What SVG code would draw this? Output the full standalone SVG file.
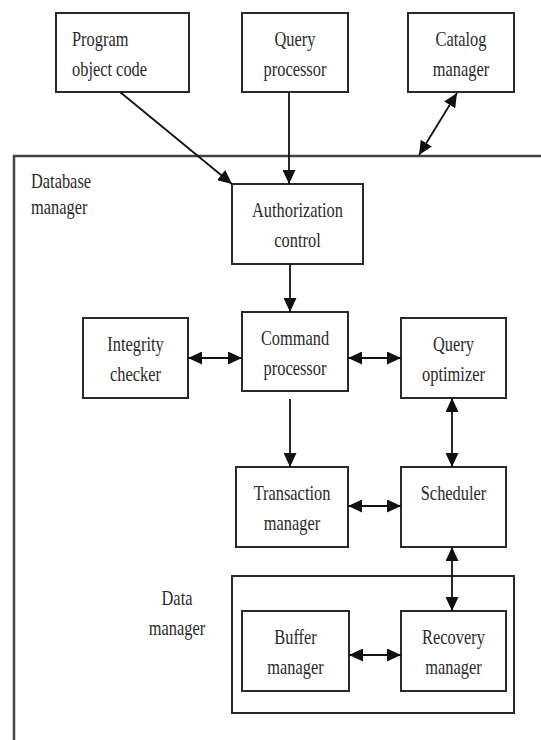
<svg xmlns="http://www.w3.org/2000/svg" width="541" height="740" viewBox="0 0 541 740">
<style>
  .box { fill: #ffffff; stroke: #2a2a2a; stroke-width: 2; }
  .frame { fill: none; stroke: #444444; stroke-width: 2.5; }
  .conn { fill: none; stroke: #111111; stroke-width: 1.8; }
  text { font-family: "Liberation Serif", "Times New Roman", serif; font-size: 20px; fill: #2a2a2a; }
  .c { text-anchor: middle; }
  .l { text-anchor: start; }
</style>
<defs>
  <marker id="ah" markerUnits="userSpaceOnUse" markerWidth="15" markerHeight="13" refX="14" refY="6.5" orient="auto-start-reverse" viewBox="0 0 15 13">
    <path d="M0,0 L14,6.5 L0,13 z" fill="#111111"/>
  </marker>
</defs>
<rect width="541" height="740" fill="#ffffff"/>

<g id="database-manager">
  <polyline class="frame" points="14,740 14,156 541,156"/>
  <text class="l" font-family="Liberation Serif, serif" transform="translate(31,188) scale(0.82,1)">Database</text>
  <text class="l" font-family="Liberation Serif, serif" transform="translate(31,214) scale(0.82,1)">manager</text>
</g>

<g id="data-manager">
  <rect class="box" x="232" y="576" width="282" height="137"/>
  <text class="c" transform="translate(177,605) scale(0.82,1)">Data</text>
  <text class="c" transform="translate(177,635) scale(0.82,1)">manager</text>
</g>

<g id="program-object-code">
  <rect class="box" x="56" y="13" width="133" height="79"/>
  <text class="l" transform="translate(72,46) scale(0.82,1)">Program</text>
  <text class="l" transform="translate(72,76) scale(0.82,1)">object code</text>
</g>

<g id="query-processor">
  <rect class="box" x="242" y="13" width="106" height="79"/>
  <text class="c" transform="translate(295,46) scale(0.82,1)">Query</text>
  <text class="c" transform="translate(295,76) scale(0.82,1)">processor</text>
</g>

<g id="catalog-manager">
  <rect class="box" x="408" y="13" width="106" height="79"/>
  <text class="c" transform="translate(461,46) scale(0.82,1)">Catalog</text>
  <text class="c" transform="translate(461,76) scale(0.82,1)">manager</text>
</g>

<g id="authorization-control">
  <rect class="box" x="232" y="184" width="131" height="80"/>
  <text class="c" transform="translate(297.5,217) scale(0.82,1)">Authorization</text>
  <text class="c" transform="translate(297.5,247) scale(0.82,1)">control</text>
</g>

<g id="integrity-checker">
  <rect class="box" x="83" y="318" width="105" height="80"/>
  <text class="c" transform="translate(135.5,351) scale(0.82,1)">Integrity</text>
  <text class="c" transform="translate(135.5,381) scale(0.82,1)">checker</text>
</g>

<g id="command-processor">
  <rect class="box" x="242" y="312" width="106" height="79"/>
  <text class="c" transform="translate(295,345) scale(0.82,1)">Command</text>
  <text class="c" transform="translate(295,375) scale(0.82,1)">processor</text>
</g>

<g id="query-optimizer">
  <rect class="box" x="401" y="318" width="105" height="80"/>
  <text class="c" transform="translate(453.5,351) scale(0.82,1)">Query</text>
  <text class="c" transform="translate(453.5,381) scale(0.82,1)">optimizer</text>
</g>

<g id="transaction-manager">
  <rect class="box" x="236" y="467" width="112" height="80"/>
  <text class="c" transform="translate(292,500) scale(0.82,1)">Transaction</text>
  <text class="c" transform="translate(292,530) scale(0.82,1)">manager</text>
</g>

<g id="scheduler">
  <rect class="box" x="401" y="467" width="105" height="80"/>
  <text class="c" transform="translate(453.5,500) scale(0.82,1)">Scheduler</text>
</g>

<g id="buffer-manager">
  <rect class="box" x="242" y="611" width="107" height="80"/>
  <text class="c" transform="translate(295.5,644) scale(0.82,1)">Buffer</text>
  <text class="c" transform="translate(295.5,674) scale(0.82,1)">manager</text>
</g>

<g id="recovery-manager">
  <rect class="box" x="401" y="611" width="105" height="80"/>
  <text class="c" transform="translate(453.5,644) scale(0.82,1)">Recovery</text>
  <text class="c" transform="translate(453.5,674) scale(0.82,1)">manager</text>
</g>

<g id="connectors">
  <line class="conn" x1="120" y1="92" x2="232" y2="184" marker-end="url(#ah)"/>
  <line class="conn" x1="289" y1="92" x2="289" y2="184" marker-end="url(#ah)"/>
  <line class="conn" x1="457" y1="93" x2="419" y2="155" marker-start="url(#ah)" marker-end="url(#ah)"/>
  <line class="conn" x1="290" y1="264" x2="290" y2="312" marker-end="url(#ah)"/>
  <line class="conn" x1="188" y1="358" x2="242" y2="358" marker-start="url(#ah)" marker-end="url(#ah)"/>
  <line class="conn" x1="348" y1="358" x2="401" y2="358" marker-start="url(#ah)" marker-end="url(#ah)"/>
  <line class="conn" x1="290" y1="399" x2="290" y2="467" marker-end="url(#ah)"/>
  <line class="conn" x1="452" y1="398" x2="452" y2="467" marker-start="url(#ah)" marker-end="url(#ah)"/>
  <line class="conn" x1="348" y1="506" x2="401" y2="506" marker-start="url(#ah)" marker-end="url(#ah)"/>
  <line class="conn" x1="452" y1="547" x2="452" y2="611" marker-start="url(#ah)" marker-end="url(#ah)"/>
  <line class="conn" x1="349" y1="655" x2="401" y2="655" marker-start="url(#ah)" marker-end="url(#ah)"/>
</g>
</svg>
